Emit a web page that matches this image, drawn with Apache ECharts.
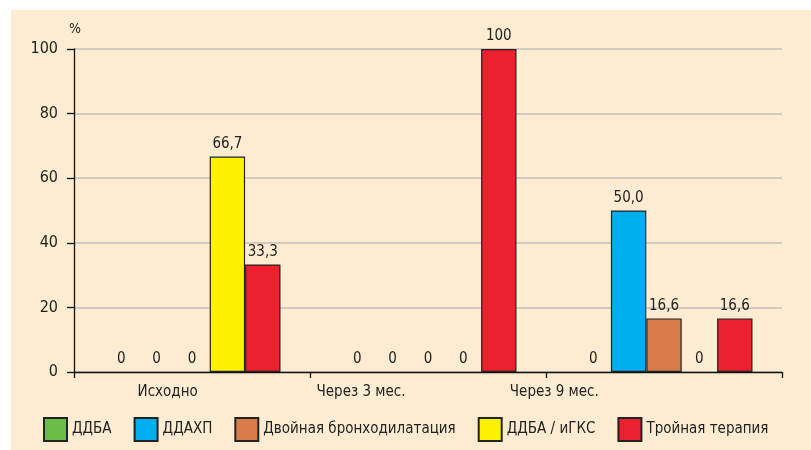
<!DOCTYPE html>
<html>
<head>
<meta charset="utf-8">
<script src="https://cdn.jsdelivr.net/npm/echarts@6/dist/echarts.min.js"></script>
<style>
  html, body { margin: 0; padding: 0; background: #fff; }
  #chart { position: absolute; left: 0; top: 0; width: 811px; height: 450px; }
</style>
</head>
<body>
<div id="chart"></div>
<script>
// data
const categories = ['Исходно', 'Через 3 мес.', 'Через 9 мес.'];
const seriesNames = ['ДДБА', 'ДДАХП', 'Двойная бронходилатация', 'ДДБА / иГКС', 'Тройная терапия'];
const ddba = [0, 0, 0];
const ddahp = [0, 0, 50.0];
const dualBd = [0, 0, 16.6];
const ddbaIgks = [66.7, 0, 0];
const triple = [33.3, 100, 16.6];
const yTicks = [0, 20, 40, 60, 80, 100];

const colors = ['#6abd45', '#00aeef', '#d77b4b', '#fff200', '#ed2030'];
const font = "'Liberation Sans Narrow', 'DejaVu Sans Condensed', 'Liberation Sans', sans-serif";

const chart = echarts.init(document.getElementById('chart'));

function fmt(p) {
    const v = p.value;
    if (v === 0 || v === 100) return String(v);
    return v.toFixed(1).replace('.', ',');
}

const allData = [ddba, ddahp, dualBd, ddbaIgks, triple];

// нулевые столбики без рамки
function toItems(arr) {
    return arr.map(v => v === 0 ? { value: v, itemStyle: { borderWidth: 0 } } : v);
}

const option = {
    backgroundColor: '#fff',
    animation: false,
    textStyle: { fontFamily: font },
    graphic: [{
        type: 'rect', z: -10, silent: true,
        shape: { x: 11, y: 10, width: 800, height: 440 },
        style: { fill: '#fdecd1' }
    }],
    grid: [
        { left: 74, right: 29, top: 49, bottom: 78 },
        { left: 71, width: 580, top: 49, bottom: 78 }
    ],
    legend: {
        left: 38, top: 412,
        icon: 'rect',
        itemWidth: 23, itemHeight: 23, itemGap: 22,
        textStyle: { fontSize: 15, color: '#222', fontFamily: font },
        data: seriesNames
    },
    xAxis: [{
        type: 'category',
        gridIndex: 0,
        data: categories,
        axisLine: { lineStyle: { color: '#111', width: 1.3 } },
        axisTick: { show: true, length: 6, lineStyle: { color: '#111', width: 1.3 } },
        axisLabel: { show: false }
    }, {
        type: 'category',
        gridIndex: 1,
        data: categories,
        axisLine: { show: false },
        axisTick: { show: false },
        axisLabel: { fontSize: 15, color: '#222', margin: 13, fontFamily: font }
    }],
    yAxis: [{
        type: 'value',
        gridIndex: 0,
        min: 0, max: 100, interval: 20,
        name: '%',
        nameLocation: 'end',
        nameGap: 13,
        nameTextStyle: { fontSize: 14, color: '#222', align: 'left', padding: [0, 0, 0, -5], fontFamily: font },
        axisLine: { show: true, lineStyle: { color: '#111', width: 1.3 } },
        axisTick: { show: true, length: 7, lineStyle: { color: '#111', width: 1.3 } },
        axisLabel: { fontSize: 16, color: '#222', margin: 16, fontFamily: font,
            formatter: v => yTicks.includes(v) ? String(v) : '' },
        splitLine: { lineStyle: { color: '#c4c0b8', width: 1.5 } }
    }, {
        type: 'value',
        gridIndex: 1,
        show: false
    }],
    series: seriesNames.map((name, i) => ({
        name: name,
        type: 'bar',
        xAxisIndex: 0,
        yAxisIndex: 0,
        data: toItems(allData[i]),
        barGap: '0%',
        barCategoryGap: '25%',
        itemStyle: { color: colors[i], borderColor: '#222', borderWidth: 1.2 },
        label: {
            show: true, position: 'top', distance: 5,
            fontSize: 15, color: '#222', fontFamily: font,
            formatter: fmt
        }
    }))
};

chart.setOption(option);
</script>
</body>
</html>
